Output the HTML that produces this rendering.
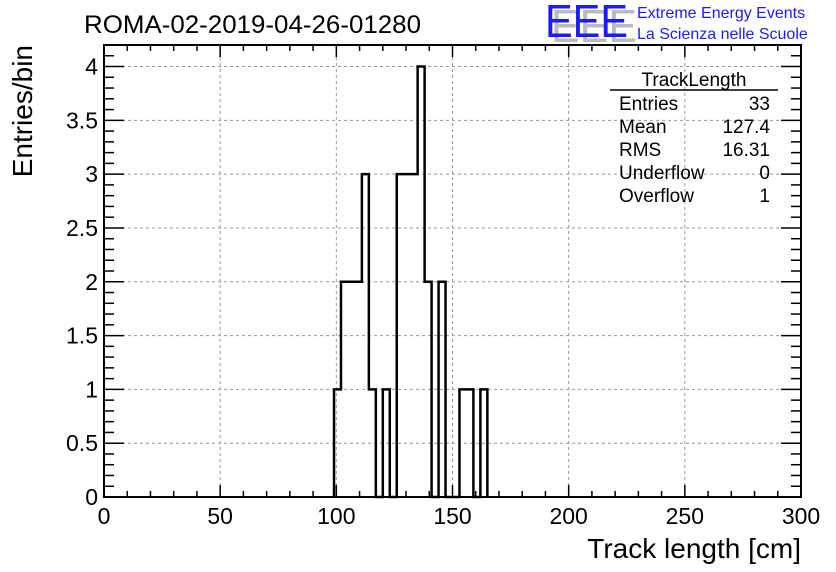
<!DOCTYPE html>
<html><head><meta charset="utf-8"><style>
body{margin:0;background:#fff;}
svg{display:block;font-family:"Liberation Sans",Arial,sans-serif;}
</style></head><body>
<svg id="c" width="836" height="572" viewBox="0 0 836 572">
<text x="84" y="33" font-size="25" textLength="337" lengthAdjust="spacingAndGlyphs">ROMA-02-2019-04-26-01280</text>
<g>
<text x="551" y="42" font-size="46" fill="#bbb" textLength="86" lengthAdjust="spacingAndGlyphs">EEE</text>
<text x="545" y="37" font-size="46" fill="#1a1aff" textLength="83" lengthAdjust="spacingAndGlyphs">EEE</text>
<text x="637" y="18" font-size="16" fill="#1a1aff">Extreme Energy Events</text>
<text x="637" y="39" font-size="16" fill="#1a1aff">La Scienza nelle Scuole</text>
</g>
<g id="grid"></g><g id="hist"></g><g id="axes"></g>
<g font-size="19">
<text x="694" y="86" text-anchor="middle">TrackLength</text>
<line x1="610" y1="90" x2="778" y2="90" stroke="#000" stroke-width="1.5"/>
<text x="619" y="110">Entries</text><text x="770" y="110" text-anchor="end">33</text>
<text x="619" y="133">Mean</text><text x="770" y="133" text-anchor="end">127.4</text>
<text x="619" y="156">RMS</text><text x="770" y="156" text-anchor="end">16.31</text>
<text x="619" y="179">Underflow</text><text x="770" y="179" text-anchor="end">0</text>
<text x="619" y="202">Overflow</text><text x="770" y="202" text-anchor="end">1</text>
</g>
<text transform="translate(32,45) rotate(-90)" text-anchor="end" font-size="28">Entries/bin</text>
<text x="801" y="558" text-anchor="end" font-size="28">Track length [cm]</text>
</svg>
<script>
const binStart = 99, binWidth = 3;
const counts = [1,2,2,2,3,1,0,1,0,3,3,3,4,2,0,2,0,0,1,1,0,1];
const xTicks = [0,50,100,150,200,250,300];
const yTicks = ["0","0.5","1","1.5","2","2.5","3","3.5","4"];
const X0=104,X1=801,Y0=497,Y1=45,xmin=0,xmax=300,ymin=0,ymax=4.2;
const ns="http://www.w3.org/2000/svg";
const sx=v=>X0+(v-xmin)/(xmax-xmin)*(X1-X0);
const sy=v=>Y0-(v-ymin)/(ymax-ymin)*(Y0-Y1);
function mk(tag,at,parent){const e=document.createElementNS(ns,tag);for(const k in at)e.setAttribute(k,at[k]);parent.appendChild(e);return e;}
const grid=document.getElementById('grid'),axes=document.getElementById('axes'),hist=document.getElementById('hist');
xTicks.forEach(t=>{
 if(t>xmin&&t<xmax){const g=mk('line',{x1:sx(t),x2:sx(t),y1:Y1,y2:Y0,stroke:'#999','stroke-dasharray':'3,3'},grid);
 
 }
 const l=mk('text',{x:sx(t),y:524,'text-anchor':'middle','font-size':23},axes);l.textContent=t;
 
 
});
yTicks.forEach(s=>{const t=parseFloat(s);
 if(t>ymin){const g=mk('line',{x1:X0,x2:X1,y1:sy(t),y2:sy(t),stroke:'#999','stroke-dasharray':'3,3'},grid);
 
 }
 const l=mk('text',{x:98,y:sy(t)+8,'text-anchor':'end','font-size':23},axes);l.textContent=s;
 
 
});
for(let v=0;v<=300;v+=10){const L=v%50==0?12:6;
 mk('line',{x1:sx(v),x2:sx(v),y1:Y0,y2:Y0-L,stroke:'#000','stroke-width':1.5},axes);
 mk('line',{x1:sx(v),x2:sx(v),y1:Y1,y2:Y1+L,stroke:'#000','stroke-width':1.5},axes);}
for(let i=0;i<=42;i++){const v=i/10;const L=i%5==0?20:10;
 mk('line',{x1:X0,x2:X0+L,y1:sy(v),y2:sy(v),stroke:'#000','stroke-width':1.5},axes);
 mk('line',{x1:X1,x2:X1-L,y1:sy(v),y2:sy(v),stroke:'#000','stroke-width':1.5},axes);}
const fr=mk('rect',{x:X0,y:Y1,width:X1-X0,height:Y0-Y1,fill:'none',stroke:'#000','stroke-width':2},axes);


let d='M'+sx(binStart)+','+sy(0);
counts.forEach((c,i)=>{const a=binStart+i*binWidth;d+=' L'+sx(a)+','+sy(c)+' L'+sx(a+binWidth)+','+sy(c);});
d+=' L'+sx(binStart+counts.length*binWidth)+','+sy(0);
const p=mk('path',{d:d,fill:'none',stroke:'#000','stroke-width':2.5},hist);


</script>
</body></html>
